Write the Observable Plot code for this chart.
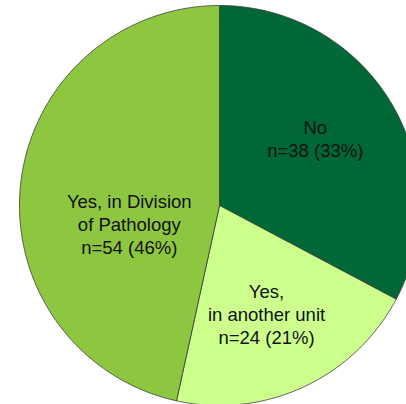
<!DOCTYPE html>
<html>
<head>
<meta charset="utf-8">
<script src="https://cdn.jsdelivr.net/npm/d3@7"></script>
<script src="https://cdn.jsdelivr.net/npm/@observablehq/plot@0.6"></script>
<style>
  html, body { margin: 0; padding: 0; background: #ffffff; }
  #chart svg { display: block; }
</style>
</head>
<body>
<div id="chart"></div>
<script>
// Answers, counts and their rounded shares
const categories = ["No", "Yes,\nin another unit", "Yes, in Division\nof Pathology"];
const counts = [38, 24, 54];
const percents = [33, 21, 46];
const colors = ["#006837", "#ccff8c", "#8dc63f"];

const slices = categories.map((c, i) => ({category: c, count: counts[i], percent: percents[i], color: colors[i]}));

// Clockwise from 12 o'clock, in the order given
const arcs = d3.pie().sort(null).value(d => d.count)(slices);

// Polygon outline for each slice (centre + arc), in unit-circle coordinates
const outline = [];
for (const a of arcs) {
  outline.push({category: a.data.category, x: 0, y: 0});
  const steps = Math.max(2, Math.ceil((a.endAngle - a.startAngle) / (Math.PI / 360)));
  for (let k = 0; k <= steps; k++) {
    const t = a.startAngle + (a.endAngle - a.startAngle) * k / steps;
    outline.push({category: a.data.category, x: Math.sin(t), y: Math.cos(t)});
  }
  outline.push({category: a.data.category, x: 0, y: 0});
}

// Label anchors: along each slice's middle angle (degrees of turn, fraction of radius)
const nudge = [
  {turn: -4, r: 0.585},
  {turn: 1.3, r: 0.589},
  {turn: -17.5, r: 0.46}
];
const labels = arcs.map((a, i) => {
  const n = nudge[i];
  const t = (a.startAngle + a.endAngle) / 2 + n.turn * Math.PI / 180;
  return {
    text: `${a.data.category}\nn=${a.data.count} (${a.data.percent}%)`,
    x: n.r * Math.sin(t),
    y: n.r * Math.cos(t)
  };
});

const chart = Plot.plot({
  width: 406,
  height: 404,
  margin: 0,
  x: {domain: [-1, 1], range: [19, 419], axis: null},
  y: {domain: [-1, 1], range: [405, 5], axis: null},
  color: {domain: categories, range: colors},
  style: {background: "#ffffff", fontFamily: "Arial, 'Liberation Sans', sans-serif"},
  marks: [
    Plot.line(outline, {
      x: "x", y: "y", z: "category",
      fill: "category",
      stroke: "#3a3a3a",
      strokeWidth: 0.8,
      strokeLinejoin: "round",
      curve: "linear"
    }),
    Plot.text(labels, {
      x: "x", y: "y", text: "text",
      fontSize: 18.5,
      lineHeight: 1.245,
      lineAnchor: "middle",
      textAnchor: "middle",
      fill: "#111111"
    })
  ]
});

document.getElementById("chart").appendChild(chart);
</script>
</body>
</html>
